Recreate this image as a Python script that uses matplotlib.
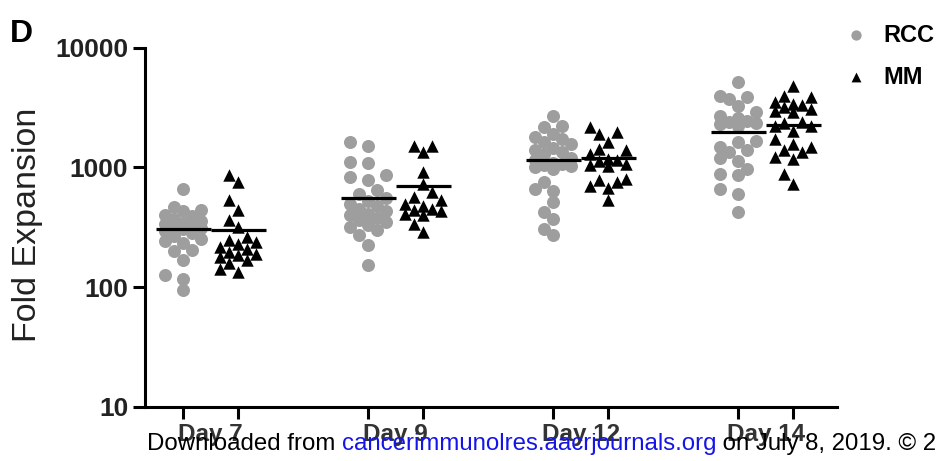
import numpy as np
import matplotlib
matplotlib.use("Agg")
import matplotlib.pyplot as plt

plt.rcParams['font.family'] = ['Liberation Sans', 'DejaVu Sans']

days = ["Day 7", "Day 9", "Day 12", "Day 14"]

# fold expansion per patient
rcc = [
    [664, 470, 440, 430, 400, 390, 370, 360, 345, 335, 320, 315, 310, 305, 295, 285,
     270, 255, 245, 235, 205, 200, 168, 126, 118, 94],
    [1626, 1525, 1107, 1080, 857, 830, 779, 643, 600, 560, 520, 498, 480, 453, 430, 412,
     400, 380, 362, 350, 330, 318, 300, 271, 224, 153],
    [2712, 2239, 2168, 1909, 1800, 1734, 1626, 1575, 1450, 1386, 1343, 1300, 1200, 1150,
     1100, 1060, 1039, 1020, 1006, 980, 755, 664, 640, 514, 424, 373, 309, 271],
    [5140, 3981, 3855, 3700, 3286, 2890, 2712, 2600, 2466, 2390, 2350, 2300, 2200, 1660,
     1626, 1475, 1386, 1343, 1200, 1143, 976, 885, 857, 664, 604, 424],
]
mm = [
    [857, 755, 531, 438, 362, 318, 262, 250, 239, 230, 217, 210, 197, 190, 185, 179,
     168, 160, 143, 134],
    [1525, 1500, 1343, 914, 731, 622, 566, 530, 498, 480, 453, 440, 430, 412, 400, 340, 289],
    [2168, 1967, 1909, 1626, 1431, 1386, 1300, 1180, 1160, 1143, 1075, 1050, 1020, 800,
     779, 750, 700, 670, 531],
    [4823, 3981, 3855, 3499, 3396, 3300, 3200, 3083, 2985, 2900, 2390, 2350, 2239, 2200,
     2032, 1734, 1575, 1475, 1386, 1350, 1219, 1180, 885, 731],
]
rcc_mean = [309, 560, 1160, 1995]
mm_mean = [303, 698, 1205, 2270]

GRAY = "#9e9e9e"
W, H = 936, 461
fig = plt.figure(figsize=(W / 100, H / 100), dpi=100)
ax = fig.add_axes([145 / W, 1 - 407 / H, (836.7 - 145) / W, (407 - 47.7) / H])
ax.set_yscale("log")
ax.set_ylim(10, 10000)
ax.set_xlim(-0.356, 3.383)

off = 0.1486
x = np.arange(len(days))
ppu = ax.transData.transform((1, 10))[0] - ax.transData.transform((0, 10))[0]


def swarm(vals, step=9.0, gap=10.5, kmax=2):
    # simple beeswarm in pixel space, returns x offsets in data units
    vals = np.asarray(vals, float)
    ys = ax.transData.transform(np.column_stack([np.zeros(len(vals)), vals]))[:, 1]
    cands = [0.0] + [s * k * step for k in range(1, kmax + 1) for s in (-1, 1)]
    placed, offs = [], np.zeros(len(vals))
    for i in np.argsort(ys):
        best, bestd = 0.0, -1
        for c in cands:
            d = min((np.hypot(c - px, ys[i] - py) for px, py in placed), default=1e9)
            if d >= gap:
                best = c
                break
            if d > bestd:
                best, bestd = c, d
        offs[i] = best
        placed.append((best, ys[i]))
    return offs / ppu


for i in range(len(days)):
    ax.scatter(x[i] - off + swarm(rcc[i]), rcc[i], s=88, color=GRAY, lw=0, zorder=2)
    ax.scatter(x[i] + off + swarm(mm[i]), mm[i], s=80, marker="^", color="black", lw=0, zorder=3)
ax.hlines(rcc_mean, x - 2 * off, x, color="black", lw=2.3, zorder=4)
ax.hlines(mm_mean, x, x + 2 * off, color="black", lw=2.3, zorder=4)

for s in ("top", "right"):
    ax.spines[s].set_visible(False)
for s in ("left", "bottom"):
    ax.spines[s].set_linewidth(2.2)
ax.set_yticks([10, 100, 1000, 10000])
ax.set_yticklabels(["10", "100", "1000", "10000"])
ax.yaxis.set_minor_locator(matplotlib.ticker.NullLocator())
ax.set_xticks(np.concatenate([x - off, x + off]))
ax.set_xticklabels([])
ax.tick_params(axis="both", length=8.6, width=2.2, pad=3.5)
for lab in ax.get_yticklabels():
    lab.set_fontsize(19)
    lab.set_fontweight("bold")
    lab.set_color("#222222")
for i, d in enumerate(days):
    ax.text(x[i], -0.045, d, transform=ax.get_xaxis_transform(), ha="center", va="top",
            fontsize=17.5, fontweight="bold", color="#333333")

fig.text(28 / W, 1 - 225 / H, "Fold Expansion", rotation=90, ha="center", va="center",
         fontsize=24.5, color="#222222")
fig.text(10 / W, 1 - 42 / H, "D", fontsize=23, fontweight="bold", va="baseline")

# legend
lg = fig.add_axes([0, 0, 1, 1], facecolor="none")
lg.set_xlim(0, W)
lg.set_ylim(H, 0)
lg.axis("off")
lg.scatter([856], [35], s=55, color=GRAY, lw=0)
lg.scatter([856], [77], s=50, marker="^", color="black", lw=0)
lg.text(883, 35, "RCC", fontsize=17, fontweight="bold", va="center")
lg.text(883, 77, "MM", fontsize=17, fontweight="bold", va="center")

# download watermark across the bottom
r = fig.canvas.get_renderer()
xx = 147
for s, col in [("Downloaded from ", "black"), ("cancerimmunolres.aacrjournals.org", "#1515e8"),
               (" on July 8, 2019. \u00a9 2019 American Association for Cancer Research.", "black")]:
    t = lg.text(xx, 450, s, color=col, fontsize=17.3, va="baseline")
    bb = t.get_window_extent(r)
    xx += bb.width

fig.savefig("out.png", dpi=100)
